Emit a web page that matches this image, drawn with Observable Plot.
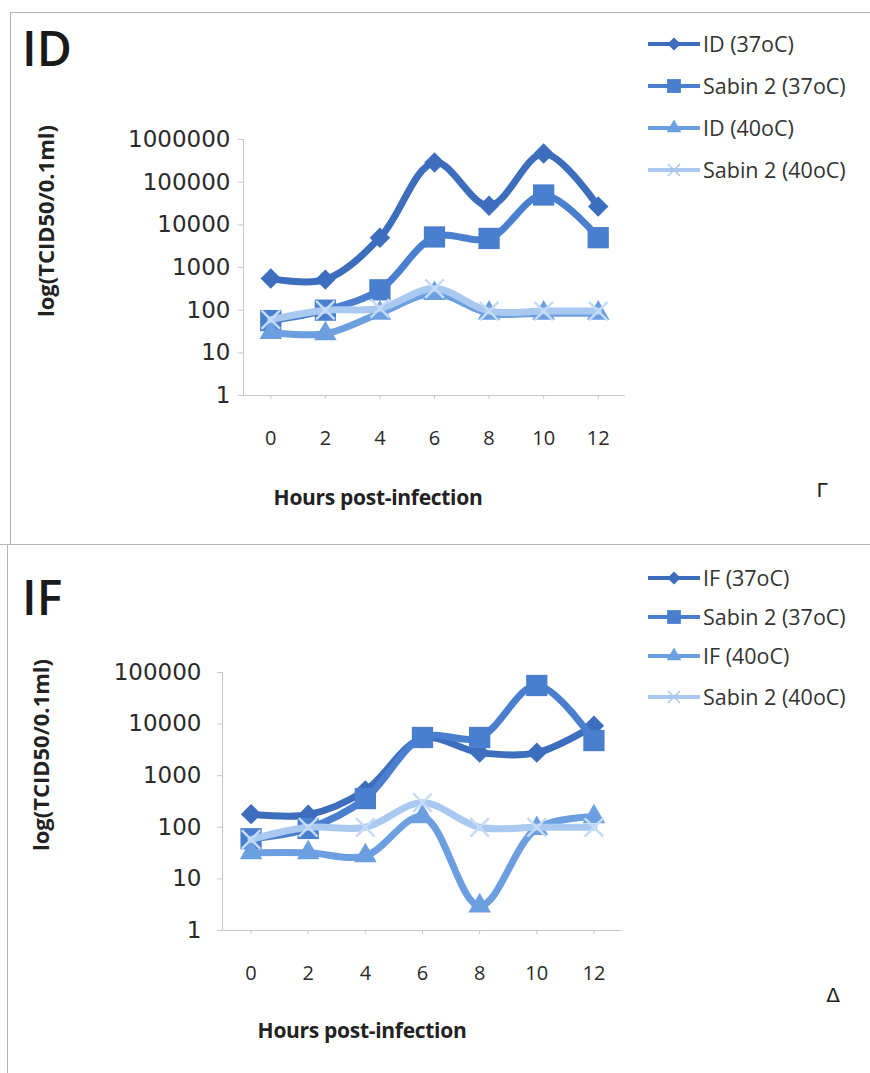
<!DOCTYPE html>
<html><head><meta charset="utf-8">
<script src="https://cdn.jsdelivr.net/npm/d3@7"></script>
<script src="https://cdn.jsdelivr.net/npm/@observablehq/plot@0.6"></script>
<style>
body{margin:0;background:#fff;}
#page{position:relative;width:870px;height:1073px;overflow:hidden;background:#fff;font-family:"Open Sans",sans-serif;color:#222}
.panel{position:absolute;left:0;width:870px}
.abs{position:absolute;white-space:nowrap;line-height:1}
.title{font-family:"Open Sans",sans-serif;font-weight:600;font-size:48px;color:#1a1a1a}
.xlab{font-family:"Open Sans",sans-serif;font-weight:700;font-size:21px;letter-spacing:-0.3px;color:#222;transform:translate(-50%,-50%)}
.ylab{font-family:"Open Sans",sans-serif;font-weight:700;font-size:22px;color:#222;transform:translate(-50%,-50%) rotate(-90deg)}
.mark{font-family:"DejaVu Sans",sans-serif;font-size:20px;color:#222;transform:translate(-50%,-50%)}
.leg{display:flex;align-items:center;font-family:"Open Sans",sans-serif;font-size:21.5px;color:#333}
.line{position:absolute;background:#b4b4b4}
</style>
</head><body>
<div id="page"></div>
<script>
// ---------- data ----------
const hours = [0, 2, 4, 6, 8, 10, 12];
const yTicksTop = [1, 10, 100, 1000, 10000, 100000, 1000000];
const yTicksBottom = [1, 10, 100, 1000, 10000, 100000];

const seriesTop = ["ID (37oC)", "Sabin 2 (37oC)", "ID (40oC)", "Sabin 2 (40oC)"];
const id37 = [550, 520, 5000, 290000, 28000, 470000, 27000];
const sabin37Top = [57, 100, 300, 5200, 4800, 50000, 5000];
const id40 = [30, 28, 85, 245, 85, 85, 85];
const sabin40Top = [60, 100, 110, 320, 95, 95, 95];

const seriesBottom = ["IF (37oC)", "Sabin 2 (37oC)", "IF (40oC)", "Sabin 2 (40oC)"];
const if37 = [180, 175, 520, 5300, 2800, 2800, 9300];
const sabin37Bottom = [60, 95, 360, 5500, 5500, 56000, 4800];
const if40 = [32, 32, 28, 160, 3, 95, 160];
const sabin40Bottom = [58, 100, 100, 300, 100, 100, 100];

const colors = ["#3d6dbd", "#4a7fcf", "#6c9fe0", "#a9c9f1"];
const symbols = ["diamond2", "square", "triangle", "times"];
const radii = [9.2, 12, 8.4, 8.5];

// ---------- layout ----------
const page = document.getElementById("page");
function div(parent, cls, css, text) {
  const d = document.createElement("div");
  d.className = cls;
  Object.assign(d.style, css);
  if (text != null) d.textContent = text;
  parent.appendChild(d);
  return d;
}
// frame lines
div(page, "line", {left: "10px", top: "12px", width: "860px", height: "1px"});
div(page, "line", {left: "10px", top: "12px", width: "1px", height: "533px"});
div(page, "line", {left: "0px", top: "544px", width: "870px", height: "1px"});
div(page, "line", {left: "7px", top: "545px", width: "1px", height: "528px"});

function legendSwatch(color, symbol, r) {
  const svg = d3.create("svg").attr("width", 56).attr("height", 24);
  svg.append("line").attr("x1", 2).attr("x2", 54).attr("y1", 12).attr("y2", 12)
    .attr("stroke", color).attr("stroke-width", 4);
  const sym = {diamond2: d3.symbolDiamond2, square: d3.symbolSquare, triangle: d3.symbolTriangle, times: d3.symbolTimes}[symbol];
  const p = svg.append("path").attr("transform", "translate(28,12)")
    .attr("d", d3.symbol(sym, Math.PI * r * r * 0.42)());
  if (symbol === "times") p.attr("fill", "none").attr("stroke", color).attr("stroke-width", 1.5);
  else p.attr("fill", color);
  return svg.node();
}

function buildPanel(cfg) {
  const panel = div(page, "panel", {top: cfg.top + "px", height: cfg.height + "px"});
  const rows = [];
  cfg.values.forEach((vals, i) => vals.forEach((v, j) => rows.push({series: cfg.series[i], s: i, h: hours[j], v})));

  const marks = [
    Plot.ruleX([-1], {stroke: "#c9c9c9", strokeWidth: 1}),
    Plot.ruleY([cfg.yDomain[0]], {stroke: "#c9c9c9", strokeWidth: 1}),
    Plot.axisY(cfg.yTicks, {anchor: "left", tickSize: 5, tickPadding: cfg.tickPadY, stroke: "#c9c9c9", fill: "#2a2a2a",
      tickFormat: d => String(d), fontSize: 23, fontFamily: "DejaVu Sans", label: null}),
    Plot.axisX(hours, {anchor: "bottom", tickSize: 4, tickPadding: 31, stroke: "#c9c9c9", fill: "#2a2a2a",
      tickFormat: d => String(d), fontSize: 20, fontFamily: "'Liberation Sans Narrow','Open Sans',sans-serif", label: null})
  ];
  cfg.series.forEach((name, i) => {
    const d = rows.filter(r => r.s === i);
    marks.push(Plot.line(d, {x: "h", y: "v", stroke: colors[i], strokeWidth: 7, curve: "catmull-rom", strokeLinejoin: "round"}));
    if (symbols[i] === "times") {
      marks.push(Plot.dot(d, {x: "h", y: "v", symbol: "times", r: radii[i], stroke: "#c5dbf6", strokeWidth: 2.5, fill: "none"}));
    } else {
      marks.push(Plot.dot(d, {x: "h", y: "v", symbol: symbols[i], r: radii[i], fill: colors[i], stroke: "none"}));
    }
  });

  const chart = Plot.plot({
    width: 870, height: cfg.height,
    marginLeft: cfg.left, marginTop: cfg.plotTop,
    marginRight: 870 - cfg.right, marginBottom: cfg.height - cfg.plotBottom,
    style: {background: "transparent", overflow: "visible"},
    x: {domain: [-1, 13], axis: null},
    y: {type: "log", domain: cfg.yDomain, axis: null},
    marks
  });
  chart.style.position = "absolute";
  chart.style.left = "0px";
  chart.style.top = "0px";
  panel.appendChild(chart);

  div(panel, "abs title", {left: cfg.titleX + "px", top: cfg.titleY + "px"}, cfg.title);
  div(panel, "abs xlab", {left: cfg.xlab[0] + "px", top: cfg.xlab[1] + "px"}, "Hours post-infection");
  div(panel, "abs ylab", {left: cfg.ylab[0] + "px", top: cfg.ylab[1] + "px"}, "log(TCID50/0.1ml)");
  div(panel, "abs mark", {left: cfg.corner[0] + "px", top: cfg.corner[1] + "px"}, cfg.cornerText);
  cfg.series.forEach((name, i) => {
    const row = div(panel, "abs leg", {left: "646px", top: (cfg.legendY[i] - 12) + "px", height: "24px"});
    row.appendChild(legendSwatch(colors[i], symbols[i], radii[i]));
    const t = document.createElement("span");
    t.textContent = name;
    t.style.marginLeft = "1px";
    row.appendChild(t);
  });
}

buildPanel({
  top: 0, height: 545, left: 243, right: 625, plotTop: 139, plotBottom: 395,
  yDomain: [1, 1000000], yTicks: yTicksTop, tickPadY: 8,
  series: seriesTop, values: [id37, sabin37Top, id40, sabin40Top],
  title: "ID", titleX: 22, titleY: 24, xlab: [378, 497], ylab: [45, 221],
  corner: [822, 490], cornerText: "Γ", legendY: [44, 86, 128, 170]
});
buildPanel({
  top: 545, height: 528, left: 222, right: 622, plotTop: 127, plotBottom: 385,
  yDomain: [1, 100000], yTicks: yTicksBottom, tickPadY: 16,
  series: seriesBottom, values: [if37, sabin37Bottom, if40, sabin40Bottom],
  title: "IF", titleX: 22, titleY: 28, xlab: [362, 485], ylab: [40, 210],
  corner: [833, 450], cornerText: "Δ", legendY: [33, 72, 111, 152]
});
</script>
</body></html>
